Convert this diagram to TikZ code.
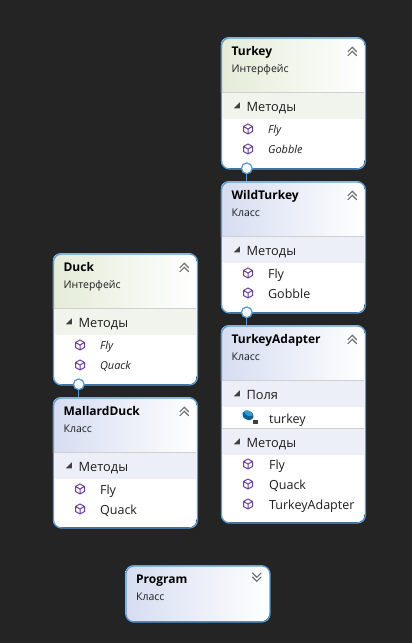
\documentclass[tikz,border=0pt]{standalone}
\usepackage{fontspec}
\setmainfont{Open Sans}
\usetikzlibrary{calc}
\definecolor{bgc}{HTML}{242424}
\definecolor{edgec}{HTML}{5B9BD5}
\definecolor{ifh}{HTML}{E4ECD8}
\definecolor{clh}{HTML}{D6DDF1}
\definecolor{ifb}{HTML}{F1F4EC}
\definecolor{clb}{HTML}{EDEFF8}
\definecolor{sepc}{HTML}{D0D0D0}
\definecolor{iconc}{HTML}{6A3FA0}
\definecolor{chevc}{HTML}{707070}
\definecolor{txt}{HTML}{1E1E1E}
\definecolor{fieldd}{HTML}{0F5F96}
\definecolor{fieldl}{HTML}{2E9AD0}
\tikzset{
  x=0.75pt,y=-0.75pt,
  boxframe/.style={draw=edgec,line width=1pt,rounded corners=6pt,minimum width=108pt,inner sep=0pt,anchor=north west},
  nudged/.style={anchor=base west,inner sep=0pt,xshift=0.4pt,yshift=-0.75pt},
  titletext/.style={nudged,font=\fontsize{9}{11}\selectfont\bfseries,text=black},
  subtext/.style={nudged,font=\fontsize{7.9}{9}\selectfont,text=txt},
  grouptext/.style={nudged,font=\fontsize{9.6}{11}\selectfont,text=txt},
  membertext/.style={nudged,font=\fontsize{9.4}{11}\selectfont,text=txt},
  absttext/.style={nudged,font=\fontsize{8.2}{9}\selectfont\itshape,text=txt},
  lollipop/.style={circle,draw=edgec,fill=white,line width=1pt,minimum size=8pt,inner sep=0pt},
  linkline/.style={draw=edgec,line width=1pt},
}
% name, x, ytop, ybottom, yheader, head colour, title, subtitle
\newcommand{\umlbox}[8]{%
  \begin{scope}
    \clip[rounded corners=6pt] (#2,#3) rectangle (#2+144,#4);
    \fill[white] (#2,#3) rectangle (#2+144,#4);
    \shade[left color=#6,right color=white] (#2,#3) rectangle (#2+144,#5);
  \end{scope}
  \node[boxframe,minimum height={(#4-#3)*0.75pt}] (#1) at (#2,#3) {};
  \node[titletext] (#1title) at (#2+10,#3+17.5) {#7};
  \node[subtext] (#1sub) at (#2+10,#3+34.5) {#8};
  \draw[chevc,line width=0.9pt] (#2+127,#3+14.5) -- (#2+131.5,#3+10) -- (#2+136,#3+14.5)
        (#2+127,#3+18.5) -- (#2+131.5,#3+14) -- (#2+136,#3+18.5);
}
% x, ytop, ybottom, colour, text
\newcommand{\umlband}[5]{%
  \fill[#4] (#1+1,#2) rectangle (#1+143,#3);
  \draw[sepc,line width=0.6pt] (#1+1,#2) -- (#1+143,#2);
  \fill[black!75] (#1+19,#2+10) -- (#1+19,#2+16) -- (#1+13,#2+16) -- cycle;
  \node[grouptext] at (#1+25,#2+18) {#5};
}
% x, y centre
\newcommand{\umlicon}[2]{%
  \begin{scope}[shift={(0.7,0.7)}]
  \draw[iconc,line width=0.75pt,line join=round] (#1,#2-5) -- (#1+4.5,#2-2.5) -- (#1+4.5,#2+2.5) -- (#1,#2+5) -- (#1-4.5,#2+2.5) -- (#1-4.5,#2-2.5) -- cycle
    (#1-4.5,#2-2.5) -- (#1,#2) -- (#1+4.5,#2-2.5) (#1,#2) -- (#1,#2+5);
  \end{scope}
}
\begin{document}
\begin{tikzpicture}
\useasboundingbox (0.7,0.7) rectangle (411.7,643.7);
\fill[bgc] (-5,-5) rectangle (420,650);
% Turkey
\umlbox{turkey}{221.5}{38}{169}{93}{ifh}{Turkey}{Интерфейс}
\umlband{221.5}{93}{120}{ifb}{Методы}
\umlicon{248}{129}\node[absttext] at (268,133) {Fly};
\umlicon{248}{149}\node[absttext] at (268,153) {Gobble};
% WildTurkey
\umlbox{wild}{221.5}{182}{313}{237}{clh}{WildTurkey}{Класс}
\umlband{221.5}{237}{264}{clb}{Методы}
\umlicon{248}{273}\node[membertext] at (268,278) {Fly};
\umlicon{248}{293}\node[membertext] at (268,298) {Gobble};
% TurkeyAdapter
\umlbox{adapter}{221.5}{326}{523}{381}{clh}{TurkeyAdapter}{Класс}
\umlband{221.5}{381}{408}{clb}{Поля}
\fill[rotate around={-25:(248.7,416)},fieldd] (248.7,416) ellipse [x radius=6,y radius=4.5];
\fill[rotate around={-25:(249.2,414)},fieldl] (249.2,414) ellipse [x radius=4.5,y radius=2.5];
\fill[black!75] (254,421) rectangle (258.5,425);
\draw[black!75,line width=0.5pt] (255,421) arc (180:0:1.25);
\node[membertext] at (269,423) {turkey};
\umlband{221.5}{429}{456}{clb}{Методы}
\umlicon{248}{464}\node[membertext] at (269,469) {Fly};
\umlicon{248}{484}\node[membertext] at (269,489) {Quack};
\umlicon{248}{504}\node[membertext] at (269,509) {TurkeyAdapter};
% Duck
\umlbox{duck}{53.5}{254}{385}{309}{ifh}{Duck}{Интерфейс}
\umlband{53.5}{309}{336}{ifb}{Методы}
\umlicon{80}{345}\node[absttext] at (100,349) {Fly};
\umlicon{80}{365}\node[absttext] at (100,369) {Quack};
% MallardDuck
\umlbox{mallard}{53.5}{398}{528}{453}{clh}{MallardDuck}{Класс}
\umlband{53.5}{453}{480}{clb}{Методы}
\umlicon{80}{489}\node[membertext] at (100,494) {Fly};
\umlicon{80}{509}\node[membertext] at (100,514) {Quack};
% Program
\begin{scope}
\clip[rounded corners=6pt] (126,566) rectangle (270,622);
\shade[left color=clh,right color=white] (126,566) rectangle (270,622);
\end{scope}
\node[boxframe,minimum height=42pt] (program) at (126,566) {};
\node[titletext] (programtitle) at (136,583.5) {Program};
\node[subtext] (programsub) at (136,600.5) {Класс};
\draw[chevc,line width=0.9pt] (253,573.5) -- (257.5,578) -- (262,573.5)
  (253,577.5) -- (257.5,582) -- (262,577.5);
% links
\node[lollipop] (lt) at (247.5,169) {};
\node[lollipop] (lw) at (247.5,313) {};
\node[lollipop] (ld) at (79.5,385) {};
\draw[linkline] (lt.south) -- (lt.south |- wild.north);
\draw[linkline] (lw.south) -- (lw.south |- adapter.north);
\draw[linkline] (ld.south) -- (ld.south |- mallard.north);
\end{tikzpicture}
\end{document}
